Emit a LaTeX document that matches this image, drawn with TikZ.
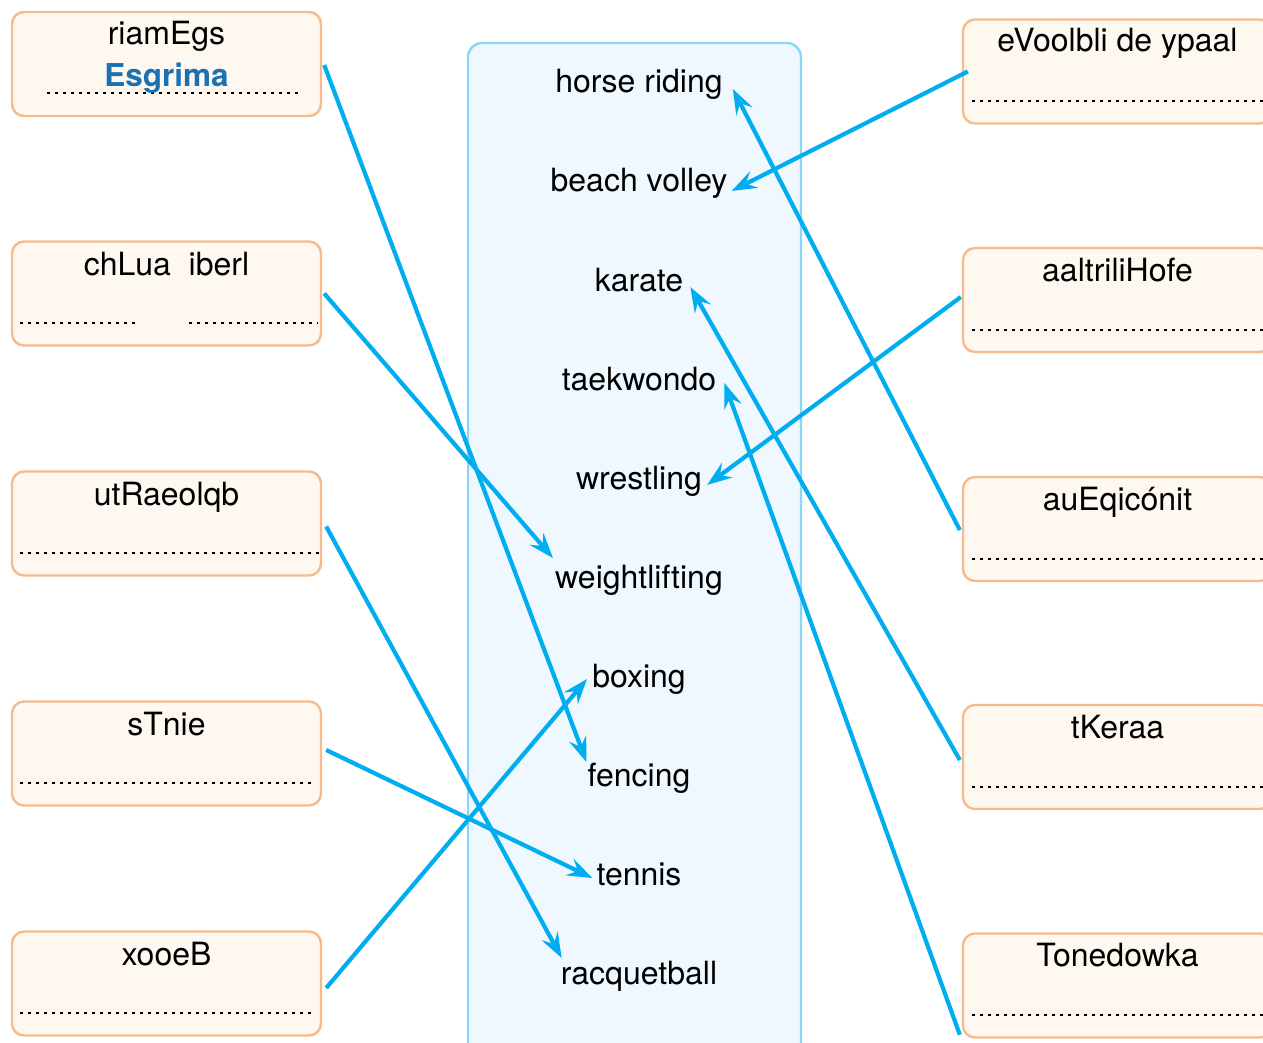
\documentclass[tikz,border=0pt]{standalone}
\usepackage{fontspec}
\setmainfont{TeX Gyre Heros}
\usetikzlibrary{arrows.meta,calc}
\definecolor{boxfill}{HTML}{FEF8F0}
\definecolor{boxline}{HTML}{F6BB8D}
\definecolor{midfill}{HTML}{EEF8FE}
\definecolor{midline}{HTML}{8CD5F5}
\definecolor{arrowblue}{HTML}{00AEEF}
\definecolor{answerblue}{HTML}{1C72B0}
\begin{document}
\begin{tikzpicture}[x=1pt,y=-1pt,
  card/.style={draw=boxline,fill=boxfill,line width=2.4pt,rounded corners=12pt,minimum width=309pt,minimum height=104pt,inner sep=0pt},
  midbox/.style={draw=midline,fill=midfill,line width=2.4pt,rounded corners=14pt,minimum width=333pt,minimum height=1018pt,inner sep=0pt},
  title/.style={anchor=base,inner sep=0pt,font=\fontsize{32}{38}\selectfont},
  word/.style={anchor=base,inner sep=0pt,font=\fontsize{32}{38}\selectfont},
  answer/.style={anchor=base,inner sep=0pt,font=\fontsize{31.5}{38}\selectfont\bfseries,text=answerblue},
  dots/.style={black,line width=2.6pt,dash pattern=on 2.6pt off 5.4pt},
  link/.style={arrowblue,line width=4.2pt,-{Stealth[length=25pt,width=18pt,inset=9pt]}}]
\useasboundingbox (0,0) rectangle (1263,1043);
\clip (0,0) rectangle (1263,1043);
% central panel
\node[midbox] (mid) at (634.5,552) {};
\node[word] (horse) at (639,93) {horse riding};
\node[word] (beach) at (639,192) {beach volley};
\node[word] (karate) at (639,291) {karate};
\node[word] (taekwondo) at (639,390) {taekwondo};
\node[word] (wrestling) at (639,489) {wrestling};
\node[word] (weight) at (639,588) {weightlifting};
\node[word] (boxing) at (639,687) {boxing};
\node[word] (fencing) at (639,786) {fencing};
\node[word] (tennis) at (639,885) {tennis};
\node[word] (racquet) at (639,984) {racquetball};
% left cards
\node[card] (L1) at (166.5,64) {};
\node[card] (L2) at (166.5,293.5) {};
\node[card] (L3) at (166.5,523.5) {};
\node[card] (L4) at (166.5,753.5) {};
\node[card] (L5) at (166.5,983.5) {};
\draw[dots] (47,93) -- (300,93);
\draw[dots] (20,323) -- (138,323);
\draw[dots] (189,323) -- (318,323);
\draw[dots] (20,553) -- (323,553);
\draw[dots] (20,783) -- (313,783);
\draw[dots] (20,1013) -- (313,1013);
\node[title] (L1t) at (166.5,45) {riamEgs};
\node[answer] (L1a) at (166.5,87) {Esgrima};
\node[title] (L2t) at (166.5,275) {chLua\ \ iberl};
\node[title] (L3t) at (166.5,505) {utRaeolqb};
\node[title] (L4t) at (166.5,735) {sTnie};
\node[title] (L5t) at (166.5,965) {xooeB};
% right cards
\node[card] (R1) at (1117.5,71.5) {};
\node[card] (R2) at (1117.5,300) {};
\node[card] (R3) at (1117.5,529) {};
\node[card] (R4) at (1117.5,757) {};
\node[card] (R5) at (1117.5,985.5) {};
\draw[dots] (972,101) -- (1263,101);
\draw[dots] (972,330) -- (1263,330);
\draw[dots] (972,559) -- (1263,559);
\draw[dots] (972,787) -- (1263,787);
\draw[dots] (972,1015) -- (1263,1015);
\node[title] (R1t) at (1117.5,52) {eVoolbli de ypaal};
\node[title] (R2t) at (1117.5,281) {aaltriliHofe};
\node[title] (R3t) at (1117.5,510) {auEqicónit};
\node[title] (R4t) at (1117.5,738) {tKeraa};
\node[title] (R5t) at (1117.5,966) {Tonedowka};
% connectors
\draw[link] ($(L1.east)+(2,1)$) -- ($(fencing.base west)+(-1,-24)$);
\draw[link] ($(L2.east)+(2,0)$) -- ($(weight.base west)+(-2,-30)$);
\draw[link] ($(L3.east)+(4,3)$) -- ($(racquet.base west)+(1,-26)$);
\draw[link] ($(L4.east)+(4,-3.5)$) -- ($(tennis.base west)+(-4,-7)$);
\draw[link] ($(L5.east)+(4,4.5)$) -- ($(boxing.base west)+(-5,-8)$);
\draw[link] ($(R1.west)+(6,0)$) -- ($(beach.base east)+(4,-1)$);
\draw[link] ($(R2.west)+(-1,-3)$) -- ($(wrestling.base east)+(5,-4)$);
\draw[link] ($(R3.west)+(-2,1)$) -- ($(horse.base east)+(10,-4)$);
\draw[link] ($(R4.west)+(-2,3)$) -- ($(karate.base east)+(7,-4)$);
\draw[link] ($(R5.south west)+(-2,-4)$) -- ($(taekwondo.base east)+(8,-7)$);
\end{tikzpicture}
\end{document}
